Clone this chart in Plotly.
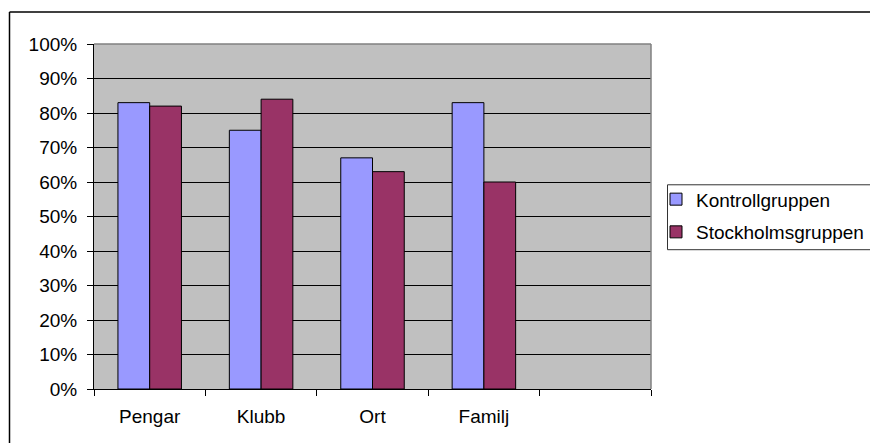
import plotly.graph_objects as go

categories = ["Pengar", "Klubb", "Ort", "Familj", " "]
kontroll = [83, 75, 67, 83]
stockholm = [82, 84, 63, 60]
series_names = ["Kontrollgruppen", "Stockholmsgruppen"]
y_ticks = [0, 10, 20, 30, 40, 50, 60, 70, 80, 90, 100]
y_ticktext = [f"{v}%" for v in y_ticks]

FONT = "Liberation Sans, Arial, sans-serif"
FS = 19

fig = go.Figure()
fig.add_trace(go.Bar(
    x=categories[:4], y=kontroll, name=series_names[0], legendgroup="a",
    marker=dict(color="#9999FF", line=dict(color="black", width=1)),
))
fig.add_trace(go.Bar(
    x=categories[:4], y=stockholm, name=series_names[1], legendgroup="b",
    marker=dict(color="#993366", line=dict(color="black", width=1)),
))

W, H = 870, 443
L, R, T, B = 94, 651, 43.5, 389
pw, ph = R - L, B - T

def px(x):
    return (x - L) / pw

def py(y):
    return (B - y) / ph

fig.update_layout(
    width=W, height=H,
    margin=dict(l=L, r=W - R, t=T, b=H - B, autoexpand=False, pad=0),
    paper_bgcolor="white",
    plot_bgcolor="#C0C0C0",
    barmode="group",
    bargap=0.43,
    bargroupgap=0,
    font=dict(family=FONT, size=FS, color="black"),
    showlegend=True,
    legend=dict(
        x=px(656), y=py(180), xanchor="left", yanchor="top",
        bgcolor="rgba(0,0,0,0)", borderwidth=0,
        font=dict(family=FONT, size=FS, color="black"),
        tracegroupgap=5,
    ),
    xaxis=dict(
        type="category", categoryorder="array", categoryarray=categories,
        range=[-0.5, 4.5], showgrid=False, zeroline=False,
        showline=True, linecolor="black", linewidth=1,
        ticks="outside", ticklen=6, tickcolor="black", tickson="boundaries",
        ticklabelstandoff=10,
    ),
    yaxis=dict(
        range=[0, 100], tickmode="array", tickvals=y_ticks, ticktext=y_ticktext,
        showgrid=True, gridcolor="black", gridwidth=1, zeroline=False,
        showline=True, linecolor="black", linewidth=1,
        ticks="outside", ticklen=6, tickcolor="black",
        ticklabelstandoff=6,
    ),
    shapes=[
        # plot area border top & right (gray)
        dict(type="line", xref="paper", yref="paper", x0=0, x1=1, y0=1, y1=1,
             line=dict(color="#808080", width=1.5), layer="above"),
        dict(type="line", xref="paper", yref="paper", x0=1, x1=1, y0=0, y1=1,
             line=dict(color="#808080", width=1.5), layer="above"),
        # outer chart border (top & left visible)
        dict(type="line", xref="paper", yref="paper", x0=px(9.5), x1=px(880),
             y0=py(11.5), y1=py(11.5), line=dict(color="black", width=1.5)),
        dict(type="line", xref="paper", yref="paper", x0=px(9.5), x1=px(9.5),
             y0=py(11.5), y1=py(460), line=dict(color="black", width=1.5)),
        # legend box
        dict(type="rect", xref="paper", yref="paper", x0=px(667.5), x1=px(890),
             y0=py(184.5), y1=py(249.5), fillcolor="white",
             line=dict(color="#333333", width=1)),
    ],
)

fig.write_html("out.html", config={"displayModeBar": False},
               post_script="document.body.style.margin='0';")
